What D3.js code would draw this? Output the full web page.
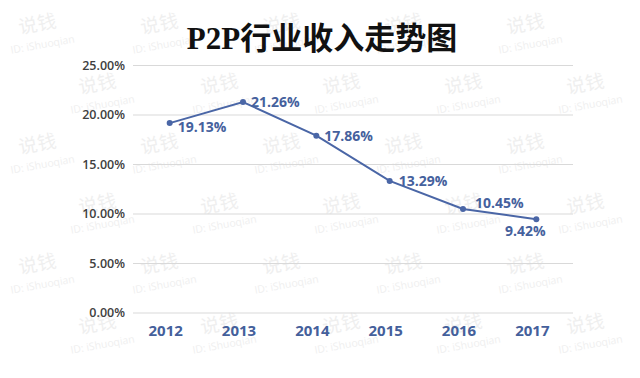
<!DOCTYPE html>
<html>
<head>
<meta charset="utf-8">
<script src="https://cdn.jsdelivr.net/npm/d3@7/dist/d3.min.js"></script>
<style>
  body { margin: 0; background: #fff; }
  svg { display: block; }
</style>
</head>
<body>
<div id="chart"></div>
<script>
// chart data
const years = ["2012", "2013", "2014", "2015", "2016", "2017"];
const income = [19.13, 21.26, 17.86, 13.29, 10.45, 9.42];
const yTicks = [0, 5, 10, 15, 20, 25];

// label nudges per point (layout only)
const labelDx = [8, 8, 8, 9, 12, -11];
const labelDy = [4, 0, 0, 0, -6, 12];

const width = 640, height = 378;
const margin = { top: 65, right: 67, bottom: 65, left: 133 };

const svg = d3.select("#chart").append("svg")
  .attr("width", width).attr("height", height);

svg.append("rect").attr("width", width).attr("height", height).attr("fill", "#fff");

// faint watermark tiles (only whole ones inside the picture)
const wm = svg.append("g").attr("fill", "#efefef");
for (let r = 0; r < 6; r++) {
  for (let c = 0; c < 6; c++) {
    const x = c * 122 + (r % 2 ? 60 : 0) + 8;
    const y = r * 60 + 36;
    if (x + 80 > width || y + 24 > height) continue;
    const g = wm.append("g").attr("transform", "translate(" + x + "," + y + ") rotate(-10)");
    g.append("text").attr("font-family", "Noto Sans CJK SC").attr("font-size", 19)
      .attr("x", 12).text("说钱");
    g.append("text").attr("font-family", "Open Sans").attr("font-size", 10.5)
      .attr("y", 18).text("ID: iShuoqian");
  }
}

const x = d3.scaleBand().domain(years)
  .range([margin.left, width - margin.right]);
const y = d3.scaleLinear().domain([0, 25])
  .range([height - margin.bottom - 0.5, margin.top]);

// gridlines + y tick labels
const yAxis = svg.append("g")
  .attr("transform", "translate(" + margin.left + ",0)")
  .call(d3.axisLeft(y).tickValues(yTicks)
    .tickSize(-(width - margin.left - margin.right))
    .tickPadding(8)
    .tickFormat(d => d.toFixed(2) + "%"));
yAxis.select(".domain").remove();
yAxis.selectAll(".tick line").attr("stroke", "#d9d9d9");
yAxis.selectAll(".tick text")
  .attr("font-family", "Open Sans").attr("font-size", 12.5)
  .attr("font-weight", 600).attr("fill", "#404040");

// x axis labels
const xAxis = svg.append("g")
  .attr("transform", "translate(-4," + (height - margin.bottom) + ")")
  .call(d3.axisBottom(x).tickSize(0).tickPadding(12));
xAxis.select(".domain").remove();
xAxis.selectAll(".tick text")
  .attr("font-family", "Open Sans").attr("font-size", 15)
  .attr("font-weight", "bold").attr("fill", "#44609b");

const cx = d => x(d) + x.bandwidth() / 2;
const lineColor = "#4a66a6";

svg.append("path")
  .datum(income)
  .attr("fill", "none")
  .attr("stroke", lineColor)
  .attr("stroke-width", 2)
  .attr("d", d3.line().x((d, i) => cx(years[i])).y(d => y(d)));

svg.selectAll("circle.pt")
  .data(income).enter().append("circle")
  .attr("class", "pt")
  .attr("cx", (d, i) => cx(years[i]))
  .attr("cy", d => y(d))
  .attr("r", 3)
  .attr("fill", lineColor);

svg.selectAll("text.lbl")
  .data(income).enter().append("text")
  .attr("class", "lbl")
  .attr("x", (d, i) => cx(years[i]) + labelDx[i])
  .attr("y", (d, i) => y(d) + labelDy[i])
  .attr("dy", "0.35em")
  .attr("text-anchor", (d, i) => labelDx[i] < 0 ? "middle" : "start")
  .attr("font-family", "Open Sans").attr("font-size", 14)
  .attr("font-weight", "bold").attr("fill", "#45619d")
  .text(d => d.toFixed(2) + "%");

// title
svg.append("text")
  .attr("x", 322).attr("y", 49)
  .attr("text-anchor", "middle")
  .attr("font-family", "Liberation Serif, 'Noto Sans CJK SC'")
  .attr("font-size", 31).attr("font-weight", "bold")
  .attr("fill", "#111")
  .text("P2P行业收入走势图");
</script>
</body>
</html>
